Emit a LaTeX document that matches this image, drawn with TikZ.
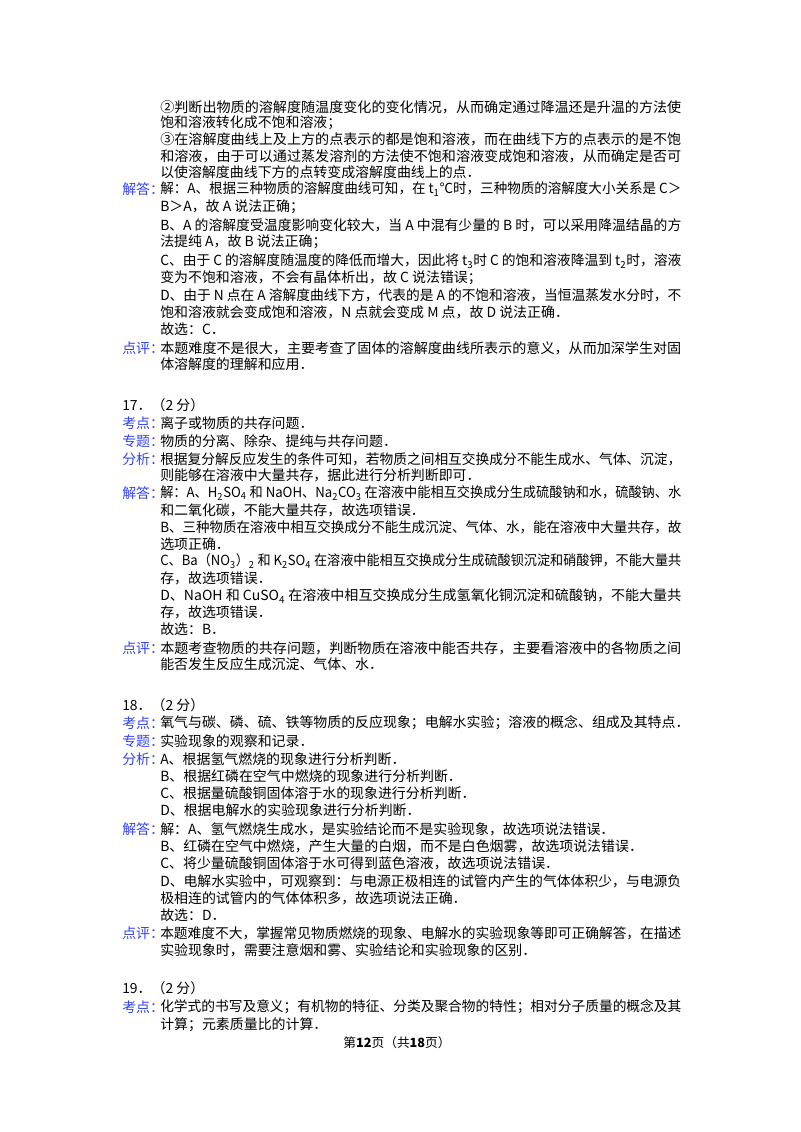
\documentclass[tikz,border=0pt]{standalone}
\usepackage{fontspec}
\usepackage{graphicx}
\setmainfont{Noto Sans CJK SC}
\newlength\pxu \setlength\pxu{0.7468pt}
\newcommand\fl[1]{\resizebox{521\pxu}{\height}{#1}}
\newcommand\sbs[1]{\textsubscript{#1}}
\definecolor{lbl}{HTML}{3344EE}
\begin{document}
\begin{tikzpicture}[x=0.02625cm,y=-0.02625cm,
  ln/.style={anchor=west,inner sep=0,font=\fontsize{10.4pt}{12pt}\selectfont},
  lb/.style={ln,text=lbl},
  hd/.style={ln}]
\useasboundingbox[fill=white] (0,0) rectangle (800,1132);
% section 16 continued
\node[ln] (a1) at (160,107) {\fl{②判断出物质的溶解度随温度变化的变化情况，从而确定通过降温还是升温的方法使}};
\node[ln] (a2) at (160,123) {饱和溶液转化成不饱和溶液；};
\node[ln] (a3) at (160,139) {\fl{③在溶解度曲线上及上方的点表示的都是饱和溶液，而在曲线下方的点表示的是不饱}};
\node[ln] (a4) at (160,156) {\fl{和溶液，由于可以通过蒸发溶剂的方法使不饱和溶液变成饱和溶液，从而确定是否可}};
\node[ln] (a5) at (160,172) {以使溶解度曲线下方的点转变成溶解度曲线上的点．};
\node[lb] (a6l) at (122,189) {解答：};
\node[ln] (a6) at (160,189) {\fl{解：A、根据三种物质的溶解度曲线可知，在 t\sbs{1}℃时，三种物质的溶解度大小关系是 C＞}};
\node[ln] (a7) at (160,207) {B＞A，故 A 说法正确；};
\node[ln] (a8) at (160,225) {\fl{B、A 的溶解度受温度影响变化较大，当 A 中混有少量的 B 时，可以采用降温结晶的方}};
\node[ln] (a9) at (160,242) {法提纯 A，故 B 说法正确；};
\node[ln] (a10) at (160,261) {\fl{C、由于 C 的溶解度随温度的降低而增大，因此将 t\sbs{3}时 C 的饱和溶液降温到 t\sbs{2}时，溶液}};
\node[ln] (a11) at (160,278) {变为不饱和溶液，不会有晶体析出，故 C 说法错误；};
\node[ln] (a12) at (160,295) {\fl{D、由于 N 点在 A 溶解度曲线下方，代表的是 A 的不饱和溶液，当恒温蒸发水分时，不}};
\node[ln] (a13) at (160,312) {饱和溶液就会变成饱和溶液，N 点就会变成 M 点，故 D 说法正确．};
\node[ln] (a14) at (160,329) {故选：C．};
\node[lb] (a15l) at (122,348) {点评：};
\node[ln] (a15) at (160,348) {\fl{本题难度不是很大，主要考查了固体的溶解度曲线所表示的意义，从而加深学生对固}};
\node[ln] (a16) at (160,364) {体溶解度的理解和应用．};
% 17
\node[hd] (h17) at (122,405) {17．（2 分）};
\node[lb] (b1l) at (122,423) {考点：};
\node[ln] (b1) at (160,423) {离子或物质的共存问题．};
\node[lb] (b2l) at (122,441) {专题：};
\node[ln] (b2) at (160,441) {物质的分离、除杂、提纯与共存问题．};
\node[lb] (b3l) at (122,459) {分析：};
\node[ln] (b3) at (160,459) {\fl{根据复分解反应发生的条件可知，若物质之间相互交换成分不能生成水、气体、沉淀，}};
\node[ln] (b4) at (160,475) {则能够在溶液中大量共存，据此进行分析判断即可．};
\node[lb] (b5l) at (122,493) {解答：};
\node[ln] (b5) at (160,493) {\fl{解：A、H\sbs{2}SO\sbs{4} 和 NaOH、Na\sbs{2}CO\sbs{3} 在溶液中能相互交换成分生成硫酸钠和水，硫酸钠、水}};
\node[ln] (b6) at (160,510) {和二氧化碳，不能大量共存，故选项错误．};
\node[ln] (b7) at (160,527) {\fl{B、三种物质在溶液中相互交换成分不能生成沉淀、气体、水，能在溶液中大量共存，故}};
\node[ln] (b8) at (160,544) {选项正确．};
\node[ln] (b9) at (160,561) {\fl{C、Ba（NO\sbs{3}）\sbs{2} 和 K\sbs{2}SO\sbs{4} 在溶液中能相互交换成分生成硫酸钡沉淀和硝酸钾，不能大量共}};
\node[ln] (b10) at (160,578) {存，故选项错误．};
\node[ln] (b11) at (160,596) {\fl{D、NaOH 和 CuSO\sbs{4} 在溶液中相互交换成分生成氢氧化铜沉淀和硫酸钠，不能大量共}};
\node[ln] (b12) at (160,612) {存，故选项错误．};
\node[ln] (b13) at (160,629) {故选：B．};
\node[lb] (b14l) at (122,648) {点评：};
\node[ln] (b14) at (160,648) {\fl{本题考查物质的共存问题，判断物质在溶液中能否共存，主要看溶液中的各物质之间}};
\node[ln] (b15) at (160,664) {能否发生反应生成沉淀、气体、水．};
% 18
\node[hd] (h18) at (122,705) {18．（2 分）};
\node[lb] (c1l) at (122,723) {考点：};
\node[ln] (c1) at (160,723) {氧气与碳、磷、硫、铁等物质的反应现象；电解水实验；溶液的概念、组成及其特点．};
\node[lb] (c2l) at (122,741) {专题：};
\node[ln] (c2) at (160,741) {实验现象的观察和记录．};
\node[lb] (c3l) at (122,759) {分析：};
\node[ln] (c3) at (160,759) {A、根据氢气燃烧的现象进行分析判断．};
\node[ln] (c4) at (160,776) {B、根据红磷在空气中燃烧的现象进行分析判断．};
\node[ln] (c5) at (160,793) {C、根据量硫酸铜固体溶于水的现象进行分析判断．};
\node[ln] (c6) at (160,810) {D、根据电解水的实验现象进行分析判断．};
\node[lb] (c7l) at (122,829) {解答：};
\node[ln] (c7) at (160,829) {解：A、氢气燃烧生成水，是实验结论而不是实验现象，故选项说法错误．};
\node[ln] (c8) at (160,846) {B、红磷在空气中燃烧，产生大量的白烟，而不是白色烟雾，故选项说法错误．};
\node[ln] (c9) at (160,863) {C、将少量硫酸铜固体溶于水可得到蓝色溶液，故选项说法错误．};
\node[ln] (c10) at (160,881) {\fl{D、电解水实验中，可观察到：与电源正极相连的试管内产生的气体体积少，与电源负}};
\node[ln] (c11) at (160,898) {极相连的试管内的气体体积多，故选项说法正确．};
\node[ln] (c12) at (160,915) {故选：D．};
\node[lb] (c13l) at (122,933) {点评：};
\node[ln] (c13) at (160,933) {\fl{本题难度不大，掌握常见物质燃烧的现象、电解水的实验现象等即可正确解答，在描述}};
\node[ln] (c14) at (160,950) {实验现象时，需要注意烟和雾、实验结论和实验现象的区别．};
% 19
\node[hd] (h19) at (122,988) {19．（2 分）};
\node[lb] (d1l) at (122,1007) {考点：};
\node[ln] (d1) at (160,1007) {\fl{化学式的书写及意义；有机物的特征、分类及聚合物的特性；相对分子质量的概念及其}};
\node[ln] (d2) at (160,1025) {计算；元素质量比的计算．};
% footer
\node[inner sep=0,font=\fontsize{9.5pt}{11pt}\selectfont] (ft) at (397,1043) {第\textbf{12}页（共\textbf{18}页）};
\end{tikzpicture}
\end{document}
